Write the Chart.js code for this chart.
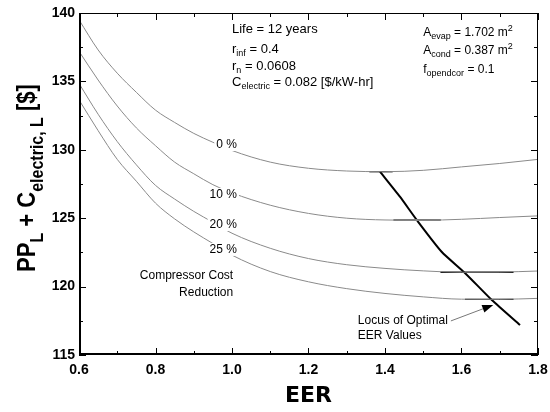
<!DOCTYPE html>
<html>
<head>
<meta charset="utf-8">
<script src="https://cdn.jsdelivr.net/npm/chart.js@4.4.1/dist/chart.umd.min.js"></script>
<style>
  html, body { margin: 0; padding: 0; background: #fff; }
</style>
</head>
<body>
<canvas id="eerChart" width="550" height="412"></canvas>
<script>
const eer = [0.6, 0.65, 0.7, 0.75, 0.8, 0.85, 0.9, 0.95, 1.0, 1.1, 1.2, 1.3, 1.4, 1.5, 1.6, 1.7, 1.8];
// PP_L + C_electric,L [$] for each compressor cost reduction
const cost0  = [139.5, 137.3, 135.6, 134.2, 132.9, 132.0, 131.2, 130.55, 129.95, 129.1, 128.65, 128.45, 128.4, 128.5, 128.75, 129.0, 129.3];
const cost10 = [137.2, 135.1, 133.2, 131.6, 130.3, 129.1, 128.25, 127.45, 126.85, 125.95, 125.35, 125.0, 124.87, 124.85, 124.92, 125.05, 125.17];
const cost20 = [134.85, 132.6, 130.6, 128.9, 127.4, 126.4, 125.5, 124.7, 123.9, 122.8, 122.05, 121.6, 121.33, 121.15, 121.05, 121.06, 121.14];
const cost25 = [133.65, 131.4, 129.3, 127.7, 126.1, 124.95, 124.0, 123.15, 122.3, 121.1, 120.35, 119.85, 119.5, 119.25, 119.08, 119.07, 119.14];
const reductions = ['0 %', '10 %', '20 %', '25 %'];

// flat region near the optimum of each curve
const bandStart = [1.359, 1.422, 1.545, 1.609];
const bandEnd   = [1.420, 1.546, 1.736, 1.736];
const bandCost  = [128.40, 124.86, 121.05, 119.07];

// locus of optimal EER values
const locusEER  = [1.387, 1.439, 1.483, 1.548, 1.609, 1.680, 1.753];
const locusCost = [128.40, 126.57, 124.87, 122.55, 121.0, 119.0, 117.19];

const xTicks = [0.6, 0.8, 1.0, 1.2, 1.4, 1.6, 1.8];
const xMinor = [0.7, 0.9, 1.1, 1.3, 1.5, 1.7];
const yTicks = [115, 120, 125, 130, 135, 140];
const yMinor = [117.5, 122.5, 127.5, 132.5, 137.5];

const FONT = '"Liberation Sans", Arial, sans-serif';

function pts(xs, ys) {
  return xs.map((v, i) => ({x: v, y: ys[i]}));
}

// draws text with sub/superscripts, parts = [[text, 0 normal | 1 sub | 2 sup], ...]
function richText(ctx, parts, x, y, align, size, bold) {
  const fontFor = k => (bold ? 'bold ' : '') + (k ? Math.round(size * 0.72) : size) + 'px ' + FONT;
  let w = 0;
  parts.forEach(([t, k]) => { ctx.font = fontFor(k); w += ctx.measureText(t).width; });
  let cx = align === 'right' ? x - w : align === 'center' ? x - w / 2 : x;
  parts.forEach(([t, k]) => {
    ctx.font = fontFor(k);
    const dy = k === 1 ? size * 0.3 : k === 2 ? -size * 0.4 : 0;
    ctx.fillText(t, cx, y + dy);
    cx += ctx.measureText(t).width;
  });
  return w;
}

const curveLabelPos = [[1.013, 130.35], [1.013, 126.70], [1.013, 124.50], [1.013, 122.68]];

const overlay = {
  id: 'overlay',
  afterDatasetsDraw(chart) {
    const {ctx, chartArea: a, scales: {x, y}} = chart;
    ctx.save();
    ctx.textBaseline = 'middle';

    // curve labels with a white gap in the line
    ctx.font = '12px ' + FONT;
    reductions.forEach((lab, i) => {
      const px = x.getPixelForValue(curveLabelPos[i][0]);
      const py = y.getPixelForValue(curveLabelPos[i][1]);
      const w = ctx.measureText(lab).width;
      ctx.fillStyle = '#fff';
      ctx.fillRect(px - w - 2, py - 7, w + 4, 13);
      ctx.fillStyle = '#000';
      ctx.textAlign = 'right';
      ctx.fillText(lab, px, py);
    });
    ctx.textAlign = 'left';

    // frame
    ctx.strokeStyle = '#000';
    ctx.lineWidth = 1;
    ctx.strokeRect(Math.round(a.left) + 0.5, Math.round(a.top) + 0.5,
                   Math.round(a.width) - 1, Math.round(a.height) - 1);
    ctx.beginPath();
    ctx.moveTo(Math.round(a.left) + 1.5, a.top);
    ctx.lineTo(Math.round(a.left) + 1.5, a.bottom);
    ctx.moveTo(a.left, Math.round(a.bottom) - 1.5);
    ctx.lineTo(a.right, Math.round(a.bottom) - 1.5);
    ctx.stroke();

    // inward ticks on all four sides
    ctx.beginPath();
    const xt = (v, len) => {
      const p = Math.round(x.getPixelForValue(v)) + 0.5;
      ctx.moveTo(p, a.bottom); ctx.lineTo(p, a.bottom - len);
      ctx.moveTo(p, a.top); ctx.lineTo(p, a.top + len);
    };
    const yt = (v, len) => {
      const p = Math.round(y.getPixelForValue(v)) + 0.5;
      ctx.moveTo(a.left, p); ctx.lineTo(a.left + len, p);
      ctx.moveTo(a.right, p); ctx.lineTo(a.right - len, p);
    };
    xTicks.forEach(v => xt(v, 7));
    xMinor.forEach(v => xt(v, 4));
    yTicks.forEach(v => yt(v, 7));
    yMinor.forEach(v => yt(v, 4));
    ctx.stroke();

    // parameter notes
    ctx.fillStyle = '#000';
    const notesL = [
      [[['Life = 12 years', 0]], 138.81],
      [[['r', 0], ['inf', 1], [' = 0.4', 0]], 137.35],
      [[['r', 0], ['n', 1], [' = 0.0608', 0]], 136.07],
      [[['C', 0], ['electric', 1], [' = 0.082 [$/kW-hr]', 0]], 134.93]
    ];
    notesL.forEach(([parts, v]) => richText(ctx, parts, x.getPixelForValue(1.0), y.getPixelForValue(v), 'left', 13));
    const notesR = [
      [[['A', 0], ['evap', 1], [' = 1.702 m', 0], ['2', 2]], 138.54],
      [[['A', 0], ['cond', 1], [' = 0.387 m', 0], ['2', 2]], 137.22],
      [[['f', 0], ['opendcor', 1], [' = 0.1', 0]], 135.83]
    ];
    notesR.forEach(([parts, v]) => richText(ctx, parts, x.getPixelForValue(1.5), y.getPixelForValue(v), 'left', 12));

    richText(ctx, [['Compressor Cost', 0]], x.getPixelForValue(1.003), y.getPixelForValue(120.77), 'right', 12);
    richText(ctx, [['Reduction', 0]], x.getPixelForValue(1.003), y.getPixelForValue(119.53), 'right', 12);

    const lx = x.getPixelForValue(1.329);
    const ly = y.getPixelForValue(117.49);
    const lw = richText(ctx, [['Locus of Optimal', 0]], lx, ly, 'left', 12);
    richText(ctx, [['EER Values', 0]], lx, y.getPixelForValue(116.39), 'left', 12);

    // arrow to the locus
    const sx = lx + lw + 3, sy = ly;
    const tx = x.getPixelForValue(1.683), ty = y.getPixelForValue(118.66);
    const ang = Math.atan2(ty - sy, tx - sx);
    const hl = 11, hw = 4;
    const bx = tx - hl * Math.cos(ang), by = ty - hl * Math.sin(ang);
    ctx.strokeStyle = '#777';
    ctx.lineWidth = 1;
    ctx.beginPath();
    ctx.moveTo(sx, sy); ctx.lineTo(bx, by);
    ctx.stroke();
    ctx.fillStyle = '#000';
    ctx.beginPath();
    ctx.moveTo(tx, ty);
    ctx.lineTo(bx + hw * Math.sin(ang), by - hw * Math.cos(ang));
    ctx.lineTo(bx - hw * Math.sin(ang), by + hw * Math.cos(ang));
    ctx.closePath();
    ctx.fill();

    // y axis title, rotated, with subscripts
    ctx.translate(35, (a.top + a.bottom) / 2 - 6);
    ctx.scale(1.2, 1);
    ctx.rotate(-Math.PI / 2);
    ctx.textBaseline = 'alphabetic';
    richText(ctx, [['PP', 0], ['L', 1], [' + C', 0], ['electric, L', 1], [' [$]', 0]], 0, 0, 'center', 22, true);
    ctx.restore();
  }
};

const curveStyle = {borderColor: '#8a8a8a', borderWidth: 1, pointRadius: 0, showLine: true, cubicInterpolationMode: 'monotone'};
const bandColors = ['#000', '#777', '#000', '#000'];

const datasets = [cost0, cost10, cost20, cost25].map((c, i) => Object.assign({label: reductions[i], data: pts(eer, c)}, curveStyle));
bandCost.forEach((c, i) => datasets.push({
  label: 'optimum ' + reductions[i],
  data: [{x: bandStart[i], y: c}, {x: bandEnd[i], y: c}],
  borderColor: bandColors[i], borderWidth: i === 1 ? 2 : 1.3, pointRadius: 0, showLine: true
}));
datasets.push({
  label: 'Locus of Optimal EER Values',
  data: pts(locusEER, locusCost),
  borderColor: '#000', borderWidth: 2, pointRadius: 0, showLine: true, tension: 0.2
});

const tickFont = {family: FONT, size: 14, weight: 'bold'};

new Chart(document.getElementById('eerChart'), {
  type: 'scatter',
  data: {datasets: datasets},
  options: {
    responsive: false,
    animation: false,
    devicePixelRatio: 1,
    layout: {padding: {top: 13, right: 12, left: 0, bottom: 0}},
    plugins: {legend: {display: false}, tooltip: {enabled: false}},
    scales: {
      x: {
        type: 'linear', min: 0.6, max: 1.8,
        afterBuildTicks: s => { s.ticks = xTicks.map(v => ({value: v})); },
        afterFit: s => { s.height = 57; s.paddingLeft = 0; s.paddingRight = 0; },
        ticks: {font: tickFont, color: '#000', padding: 7, maxRotation: 0, autoSkip: false,
                callback: v => Number(v).toFixed(1)},
        grid: {display: false, drawTicks: false},
        border: {display: false},
        title: {display: true, text: 'EER', color: '#000',
                font: {family: '"DejaVu Sans", sans-serif', size: 22, weight: 'bold'},
                padding: {top: 0, bottom: 3}}
      },
      y: {
        type: 'linear', min: 115, max: 140,
        afterBuildTicks: s => { s.ticks = yTicks.map(v => ({value: v})); },
        afterFit: s => { s.width = 79; s.paddingTop = 0; s.paddingBottom = 0; },
        ticks: {font: tickFont, color: '#000', padding: 4, autoSkip: false,
                callback: v => String(v)},
        grid: {display: false, drawTicks: false},
        border: {display: false}
      }
    }
  },
  plugins: [overlay]
});
</script>
</body>
</html>
